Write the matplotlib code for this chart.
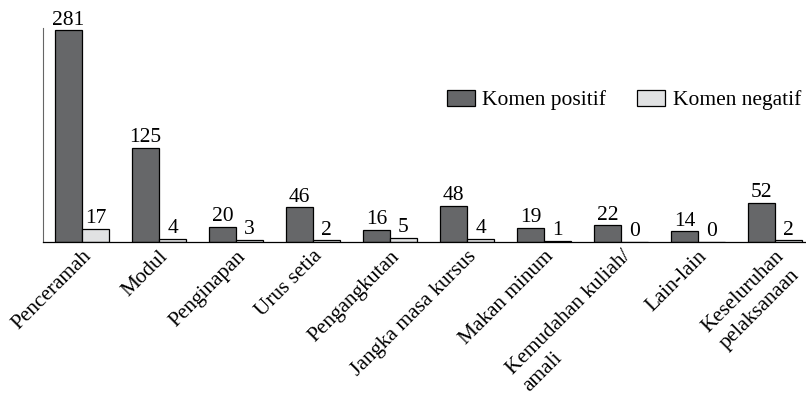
import numpy as np
import matplotlib.pyplot as plt
from matplotlib.patches import Patch
import matplotlib.transforms as mtransforms

kategori = ['Penceramah', 'Modul', 'Penginapan', 'Urus setia', 'Pengangkutan',
            'Jangka masa kursus', 'Makan minum', 'Kemudahan kuliah/\namali',
            'Lain-lain', 'Keseluruhan\npelaksanaan']
positif = [281, 125, 20, 46, 16, 48, 19, 22, 14, 52]
negatif = [17, 4, 3, 2, 5, 4, 1, 0, 0, 2]

plt.rcParams['font.family'] = ['Liberation Serif', 'DejaVu Serif']

warna_pos = '#666769'
warna_neg = '#e1e2e3'

fig = plt.figure(figsize=(8.06, 4.08), dpi=100)
ax = fig.add_axes([43/806, 166/408, 763/806, 214/408])

x = np.arange(len(kategori))
w = 27/77
b1 = ax.bar(x - w/2, positif, width=w, color=warna_pos, edgecolor='black', lw=0.9)
b2 = ax.bar(x + w/2, negatif, width=w, color=warna_neg, edgecolor='black', lw=0.9)

for bars, vals in ((b1, positif), (b2, negatif)):
    for r, v in zip(bars, vals):
        ax.text(r.get_x() + r.get_width()/2, v + 1, str(v), ha='center', va='bottom',
                fontsize=15.5)

ax.set_xlim(-39/77, 9 + 31/77)
ax.set_ylim(0, 284)
ax.set_yticks([])
ax.set_xticks(x)
ax.set_xticklabels(kategori, rotation=45, ha='right', rotation_mode='anchor',
                   fontsize=15.3, linespacing=1.35, multialignment='left')
geser = mtransforms.ScaledTranslation(-25/100, -13/100, fig.dpi_scale_trans)
for lbl in ax.get_xticklabels():
    lbl.set_transform(lbl.get_transform() + geser)
ax.tick_params(axis='x', length=0)
for s in ['top', 'right']:
    ax.spines[s].set_visible(False)
ax.spines['left'].set_color('#666666')
ax.spines['left'].set_linewidth(0.8)
ax.spines['bottom'].set_linewidth(0.9)

handles = [Patch(facecolor=warna_pos, edgecolor='black', lw=0.9, label='Komen positif'),
           Patch(facecolor=warna_neg, edgecolor='black', lw=0.9, label='Komen negatif')]
fig.legend(handles=handles, loc='center left', bbox_to_anchor=(428/806, 1 - 100/408),
           ncol=2, frameon=False, fontsize=15.5, handlelength=1.3, handleheight=0.75,
           handletextpad=0.33, columnspacing=1.44)

fig.savefig('out.png', dpi=100)
